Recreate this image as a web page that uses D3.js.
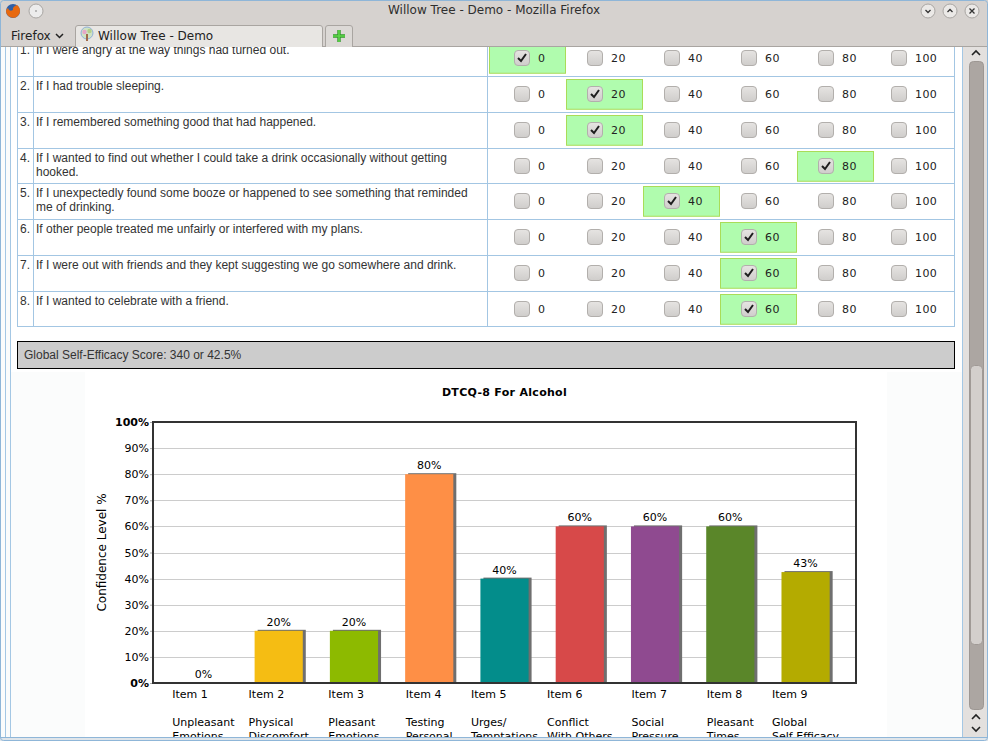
<!DOCTYPE html>
<html><head><meta charset="utf-8">
<script src="https://cdn.jsdelivr.net/npm/d3@7"></script>
<style>
body{margin:0;overflow:hidden;background:#fff}
svg text{font-family:"DejaVu Sans",sans-serif}
</style>
</head><body>
<svg id="root" width="988" height="741"></svg>
<script>
// ---------- data ----------
const questions = [
  ["If I were angry at the way things had turned out."],
  ["If I had trouble sleeping."],
  ["If I remembered something good that had happened."],
  ["If I wanted to find out whether I could take a drink occasionally without getting", "hooked."],
  ["If I unexpectedly found some booze or happened to see something that reminded", "me of drinking."],
  ["If other people treated me unfairly or interfered with my plans."],
  ["If I were out with friends and they kept suggesting we go somewhere and drink."],
  ["If I wanted to celebrate with a friend."]
];
const answers = [0, 20, 20, 80, 40, 60, 60, 60];
const scaleOptions = [0, 20, 40, 60, 80, 100];
const scoreText = "Global Self-Efficacy Score: 340 or 42.5%";

const chartTitle = "DTCQ-8 For Alcohol";
const yAxisTitle = "Confidence Level %";
const items = ["Item 1","Item 2","Item 3","Item 4","Item 5","Item 6","Item 7","Item 8","Item 9"];
const itemNames = [
  ["Unpleasant","Emotions"],["Physical","Discomfort"],["Pleasant","Emotions"],
  ["Testing","Personal"],["Urges/","Temptations"],["Conflict","With Others"],
  ["Social","Pressure"],["Pleasant","Times"],["Global","Self Efficacy"]
];
const values = [0, 20, 20, 80, 40, 60, 60, 60, 42.5];
const valueLabels = ["0%","20%","20%","80%","40%","60%","60%","60%","43%"];
const barColors = ["#3a7fc1","#f5bd13","#8dba00","#fe8f46","#038d8b","#d74949","#8f4a90","#5a8629","#b4ab00"];
const yTicks = [0,10,20,30,40,50,60,70,80,90,100];

// ---------- page ----------
const svg = d3.select("#root");
const defs = svg.append("defs");
const cbGrad = defs.append("linearGradient").attr("id","cbg").attr("x1",0).attr("y1",0).attr("x2",0).attr("y2",1);
cbGrad.append("stop").attr("offset","0").attr("stop-color","#e6e4e2");
cbGrad.append("stop").attr("offset","1").attr("stop-color","#cfcdcb");

const page = svg.append("g");
page.append("rect").attr("x",0).attr("y",47).attr("width",988).attr("height",694).attr("fill","#fbfcfc");
page.append("rect").attr("x",11).attr("y",47).attr("width",951).attr("height",325).attr("fill","#ffffff");

// container borders
[5.5, 10.5, 962.5].forEach(xv => page.append("line").attr("x1",xv).attr("x2",xv).attr("y1",47).attr("y2",737)
  .attr("stroke","#a4c7e4").attr("stroke-width",1));

// table
const rowY = d3.scaleBand().domain(d3.range(questions.length)).range([40.3, 326.3]);
const colX = d3.scaleBand().domain(scaleOptions).range([488, 950]);
const tbl = page.append("g");
const rowH = rowY.bandwidth();
tbl.append("rect").attr("x",17.5).attr("y",40.5).attr("width",937).attr("height",286)
  .attr("fill","#fff").attr("stroke","#a3c6e3");
questions.forEach((q,i) => {
  const top = rowY(i);
  if (i>0) tbl.append("line").attr("x1",17).attr("x2",955).attr("y1",Math.round(top)+0.5).attr("y2",Math.round(top)+0.5).attr("stroke","#a3c6e3");
});
[33.5, 487.5].forEach(xv => tbl.append("line").attr("x1",xv).attr("x2",xv).attr("y1",40).attr("y2",326.5).attr("stroke","#a3c6e3"));

questions.forEach((q,i) => {
  const top = rowY(i);
  tbl.append("text").attr("x",30).attr("y",top+14).attr("text-anchor","end")
    .style("font-family","Liberation Sans").style("font-size","12px").attr("fill","#333").text((i+1)+".");
  q.forEach((line,k) => {
    tbl.append("text").attr("x",36).attr("y",top+14+k*14)
      .style("font-family","Liberation Sans").style("font-size","12px").attr("fill","#333").text(line);
  });
  scaleOptions.forEach(opt => {
    const cx = colX(opt);
    const cw = colX.bandwidth();
    const sel = answers[i] === opt;
    if (sel) {
      tbl.append("rect").attr("x",Math.round(cx)+1.5).attr("y",Math.round(top)+3.5).attr("width",cw-1).attr("height",rowH-6)
        .attr("fill","#b0fcae").attr("stroke","#a9dc58");
    }
    const lbl = tbl.append("text").attr("y",top+22).style("font-size","11px").attr("fill","#222")
      .style("letter-spacing","0.4px").text(opt);
    const lw = lbl.node().getComputedTextLength();
    const groupW = 16 + 8 + lw;
    const bx = Math.round(cx + cw/2 - groupW/2 + 3);
    lbl.attr("x", bx + 24);
    const by = Math.round(top + 18 - 8);
    tbl.append("rect").attr("x",bx+0.5).attr("y",by+0.5).attr("width",15).attr("height",15).attr("rx",3.5)
      .attr("fill","url(#cbg)").attr("stroke","#b2afac");
    if (sel) {
      tbl.append("path").attr("d",`M${bx+4},${by+8} L${bx+7},${by+11} L${bx+12},${by+4}`)
        .attr("fill","none").attr("stroke","#1e1e1e").attr("stroke-width",2);
    }
  });
});

// score box
page.append("rect").attr("x",17.5).attr("y",341.5).attr("width",937).attr("height",27)
  .attr("fill","#cccccc").attr("stroke","#000");
page.append("text").attr("x",24).attr("y",359).style("font-family","Liberation Sans").style("font-size","12px")
  .attr("fill","#333").text(scoreText);

// ---------- chart ----------
const chart = page.append("g");
chart.append("rect").attr("x",85).attr("y",372).attr("width",802).attr("height",365).attr("fill","#ffffff");

const plot = {left:153, right:856, top:422, bottom:683};
const x = d3.scaleBand().domain(items).range([plot.left, plot.right]).paddingInner(0.36).paddingOuter(0.35);
const y = d3.scaleLinear().domain([0,100]).range([plot.bottom, plot.top]);

chart.append("text").attr("x",(plot.left+plot.right)/2).attr("y",396).attr("text-anchor","middle")
  .style("font-size","11px").style("font-weight","bold").style("letter-spacing","0.3px").attr("fill","#000").text(chartTitle);

// grid
chart.append("g").selectAll("line").data(yTicks.filter(d=>d>0 && d<100)).join("line")
  .attr("x1",plot.left).attr("x2",plot.right).attr("y1",d=>Math.round(y(d))+0.5).attr("y2",d=>Math.round(y(d))+0.5)
  .attr("stroke","#cccccc");

// y axis
const yAxis = chart.append("g").attr("transform",`translate(${plot.left},0)`)
  .call(d3.axisLeft(y).tickValues(yTicks).tickSize(3).tickPadding(1).tickFormat(d=>d+"%"));
yAxis.select(".domain").remove();
yAxis.selectAll(".tick line").attr("stroke","#aaaaaa");
yAxis.selectAll(".tick text").style("font-family","DejaVu Sans").style("font-size","11px").attr("fill","#000")
  .style("font-weight",d=>(d===0||d===100)?"bold":"normal");

chart.append("text").attr("transform",`translate(106,${(plot.top+plot.bottom)/2}) rotate(-90)`)
  .attr("text-anchor","middle").style("font-size","12px").attr("fill","#000").text(yAxisTitle);

// bars
const bars = chart.append("g");
items.forEach((it,i) => {
  const bx = x(it), bw = x.bandwidth(), top = y(values[i]), h = y(0)-y(values[i]);
  if (h > 0) {
    bars.append("rect").attr("x",bx+3).attr("y",top-1).attr("width",bw).attr("height",h+1).attr("fill","#6f6f6f");
    bars.append("rect").attr("x",bx).attr("y",top).attr("width",bw).attr("height",h).attr("fill",barColors[i]);
  }
  bars.append("text").attr("x",bx+bw/2).attr("y",top-5).attr("text-anchor","middle")
    .style("font-size","11px").attr("fill","#000").text(valueLabels[i]);
});

// frame
chart.append("rect").attr("x",plot.left).attr("y",plot.top).attr("width",plot.right-plot.left).attr("height",plot.bottom-plot.top)
  .attr("fill","none").attr("stroke","#333").attr("stroke-width",2);

// x labels (the page is scrolled, so the lowest lines are cut by the window edge as in the original)
const xl = chart.append("g");
items.forEach((it,i) => {
  const lines = [it, ...itemNames[i]];
  const cx = x(it) + x.bandwidth()/2;
  const ys = [698, 726, 740];
  const nodes = lines.map((l,k) => xl.append("text").attr("y",ys[k]).style("font-size","11px").attr("fill","#000").text(l));
  const mw = d3.max(nodes, n => n.node().getComputedTextLength());
  nodes.forEach(n => n.attr("x", cx - mw/2));
});

// ---------- window chrome ----------
const ch = svg.append("g");
ch.append("rect").attr("x",0).attr("y",737).attr("width",988).attr("height",4).attr("fill","#dfe5ea");
ch.append("line").attr("x1",0).attr("x2",988).attr("y1",737.5).attr("y2",737.5).attr("stroke","#8fb6d8");

// scrollbar
ch.append("rect").attr("x",963).attr("y",47).attr("width",25).attr("height",690).attr("fill","#e3e0de");
ch.append("rect").attr("x",969.5).attr("y",61.5).attr("width",14).attr("height",648).attr("rx",4)
  .attr("fill","#aca6a2").attr("stroke","#9d9793");
ch.append("rect").attr("x",970.5).attr("y",365.5).attr("width",12).attr("height",279).attr("rx",4)
  .attr("fill","#d3cfcc").attr("stroke","#a09a96");
const arrow = (cx,cy,up) => ch.append("path")
  .attr("d", up ? `M${cx-4},${cy+2} L${cx},${cy-2} L${cx+4},${cy+2}` : `M${cx-4},${cy-2} L${cx},${cy+2} L${cx+4},${cy-2}`)
  .attr("fill","none").attr("stroke","#222").attr("stroke-width",1.6);
arrow(976,53,true); arrow(976,717,true); arrow(976,729,false);

// top bars
ch.append("rect").attr("x",0).attr("y",0).attr("width",988).attr("height",47).attr("fill","#d6d2cf");
ch.append("line").attr("x1",0).attr("x2",988).attr("y1",46.5).attr("y2",46.5).attr("stroke","#a9a5a1");
ch.append("rect").attr("x",0.5).attr("y",0.5).attr("width",987).attr("height",740).attr("rx",3)
  .attr("fill","none").attr("stroke","#8fb6d8");

ch.append("text").attr("x",494).attr("y",14).attr("text-anchor","middle").style("font-size","12px")
  .attr("fill","#2e2e2e").text("Willow Tree - Demo - Mozilla Firefox");

// firefox icon
ch.append("circle").attr("cx",13).attr("cy",11).attr("r",7).attr("fill","#2f5fa6");
ch.append("path").attr("d","M6,11 A7,7 0 1 0 17,5 Q12,7 13,10 Q9,12 8,8 Q6,9 6,11 Z").attr("fill","#e8690f");
ch.append("circle").attr("cx",36).attr("cy",11).attr("r",7).attr("fill","#ececec").attr("stroke","#a9a6a3");
ch.append("circle").attr("cx",36).attr("cy",11).attr("r",0.8).attr("fill","#777");

// window buttons
[[928,"down"],[950,"up"],[972,"x"]].forEach(([cx,t]) => {
  ch.append("circle").attr("cx",cx).attr("cy",11).attr("r",7).attr("fill","#ebe9e7").attr("stroke","#a9a6a3");
  let d;
  if (t==="down") d=`M${cx-2.5},${10} L${cx},${12.5} L${cx+2.5},${10}`;
  else if (t==="up") d=`M${cx-2.5},${12} L${cx},${9.5} L${cx+2.5},${12}`;
  else d=`M${cx-2.5},${8.5} L${cx+2.5},${13.5} M${cx+2.5},${8.5} L${cx-2.5},${13.5}`;
  ch.append("path").attr("d",d).attr("fill","none").attr("stroke","#333").attr("stroke-width",1.3);
});

// tab bar
ch.append("text").attr("x",11).attr("y",40).style("font-size","12px").attr("fill","#222").text("Firefox");
ch.append("path").attr("d","M56,34 L59.5,37.5 L63,34").attr("fill","none").attr("stroke","#222").attr("stroke-width",1.5);
ch.append("path").attr("d","M75.5,47 L75.5,28 Q75.5,25.5 78,25.5 L320,25.5 Q322.5,25.5 322.5,28 L322.5,47")
  .attr("fill","#e8e6e3").attr("stroke","#a9a5a1");
ch.append("circle").attr("cx",87).attr("cy",33).attr("r",6).attr("fill","#cfe3c4").attr("stroke","#8fb0d8");
ch.append("circle").attr("cx",84.5).attr("cy",32).attr("r",2.2).attr("fill","#e7a7c8");
ch.append("circle").attr("cx",89.5).attr("cy",31).attr("r",2.2).attr("fill","#b5d08a");
ch.append("rect").attr("x",86).attr("y",34).attr("width",2).attr("height",7).attr("fill","#a06a4a");
ch.append("text").attr("x",98).attr("y",40).style("font-size","12px").attr("fill","#222").text("Willow Tree - Demo");
ch.append("path").attr("d","M325.5,47 L325.5,28 Q325.5,25.5 328,25.5 L350,25.5 Q352.5,25.5 352.5,28 L352.5,47")
  .attr("fill","#dcd9d6").attr("stroke","#a9a5a1");
ch.append("path").attr("d","M339,30 L339,42 M333,36 L345,36").attr("stroke","#2f9a2a").attr("stroke-width",3.4);
ch.append("path").attr("d","M339,30 L339,42 M333,36 L345,36").attr("stroke","#5fd84a").attr("stroke-width",1.6);
</script>
</body></html>
